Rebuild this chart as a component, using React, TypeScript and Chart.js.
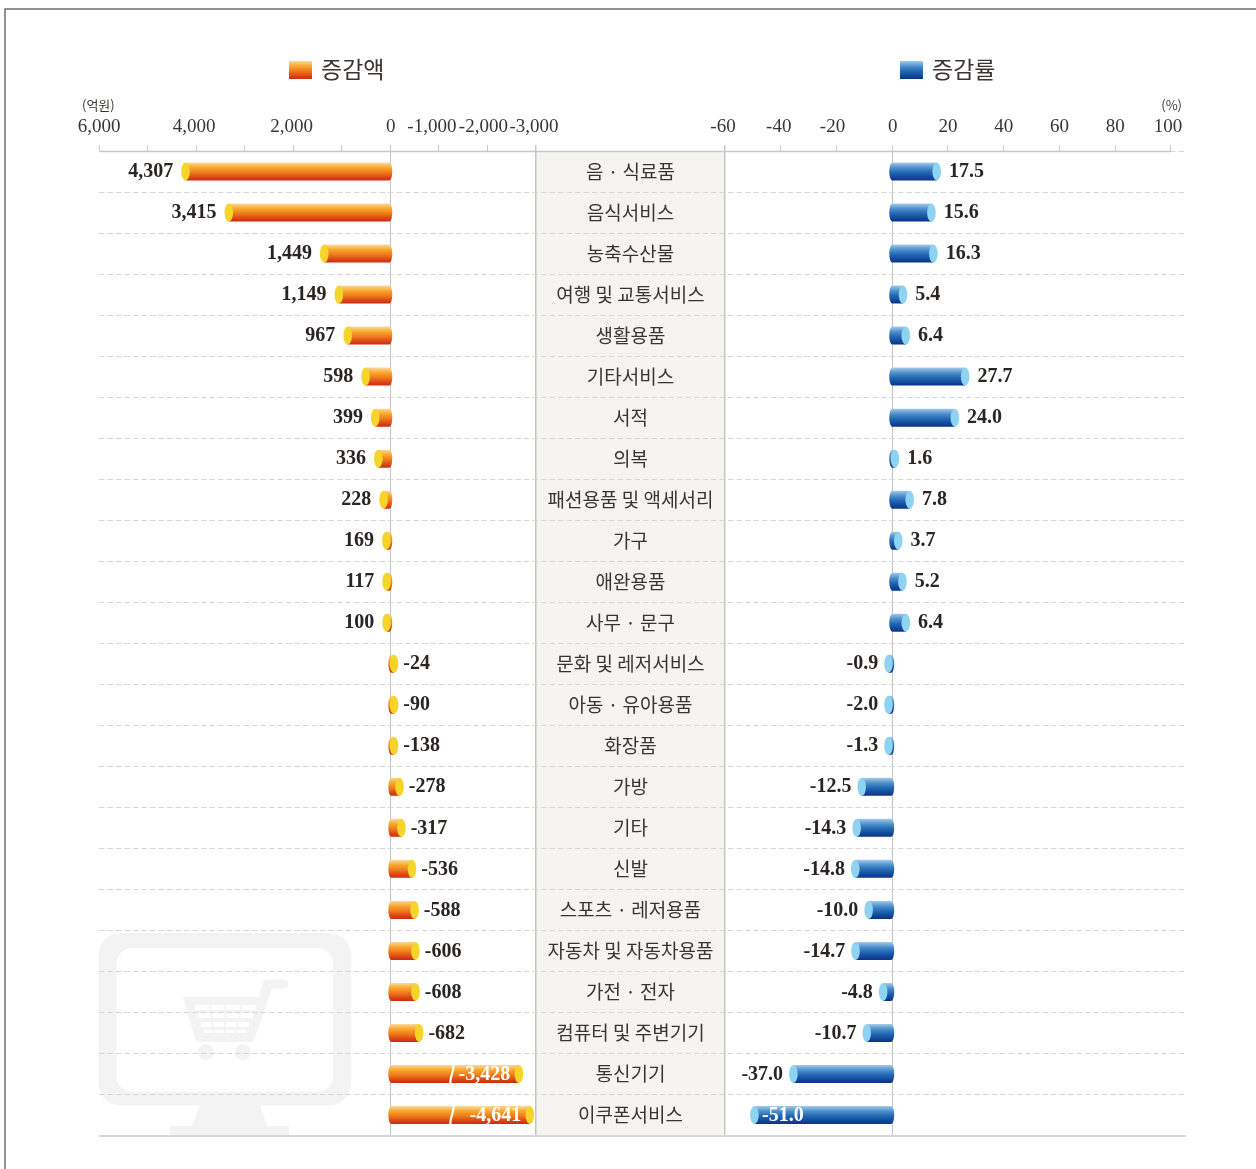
import React, { useEffect, useRef } from "react";
import { Chart, BarElement, registerables } from "chart.js";

Chart.register(...registerables);

const categories = ["음 · 식료품","음식서비스","농축수산물","여행 및 교통서비스","생활용품","기타서비스","서적","의복","패션용품 및 액세서리","가구","애완용품","사무 · 문구","문화 및 레저서비스","아동 · 유아용품","화장품","가방","기타","신발","스포츠 · 레저용품","자동차 및 자동차용품","가전 · 전자","컴퓨터 및 주변기기","통신기기","이쿠폰서비스"];
// printed values
const amountValues = [4307,3415,1449,1149,967,598,399,336,228,169,117,100,-24,-90,-138,-278,-317,-536,-588,-606,-608,-682,-3428,-4641];
const rateValues = [17.5,15.6,16.3,5.4,6.4,27.7,24.0,1.6,7.8,3.7,5.2,6.4,-0.9,-2.0,-1.3,-12.5,-14.3,-14.8,-10.0,-14.7,-4.8,-10.7,-37.0,-51.0];
// the axis is broken for the last two rows: drawn length
const amountDrawn = [4307,3415,1449,1149,967,598,399,336,228,169,117,100,-24,-90,-138,-278,-317,-536,-588,-606,-608,-682,-2737,-2963];
const amountTicks = [6000,5000,4000,3000,2000,1000,0,-1000,-2000,-3000];
const amountTickLabels = ["6,000","","4,000","","2,000","","0","-1,000","-2,000","-3,000"];
const rateTicks = [-60,-40,-20,0,20,40,60,80,100];
const legendNames = ["증감액","증감률"];
const unitNames = ["(억원)","(%)"];

const KR = '"Noto Sans CJK KR"';
const NARROW = '"Liberation Sans Narrow"';
const INK = "#3a3533";
const ORANGE = "#ee7d1b";
const BLUE = "#2a6fb8";
const stops: Record<string, [number, string][]> = {
  [ORANGE]: [[0,"#fbd9a6"],[0.12,"#fbc566"],[0.3,"#f7a52b"],[0.55,"#ef7d1b"],[0.8,"#dc4a17"],[1,"#cc2a12"]],
  [BLUE]: [[0,"#a9cdea"],[0.12,"#7fb2dd"],[0.3,"#4d8fcb"],[0.55,"#2469b3"],[0.8,"#124a9c"],[1,"#0c3388"]],
};
const nudge: Record<string, number> = {"-1,000":-7,"-2,000":-4,"-3,000":-2,"2,000":-1.5,"4,000":-2,"-60":-2,"-40":-2,"-20":-4,"100":-3,"0":0.5};

function geom(el: any) {
  const { x, y, base, height } = el.getProps(["x","y","base","height"]);
  const dir = Math.sign(x - base) || 1;
  const back = el.options.borderColor === "#8fd3f2" && dir > 0 ? 3.5 : 2.5;
  const baseEdge = base - dir * back;
  let outer = x;
  if (Math.abs(outer - baseEdge) < 10) outer = baseEdge + dir * 10;
  return { y, dir, baseEdge, outer, h: height };
}
const RX = 4.3;
// cylinder look for every bar
BarElement.prototype.draw = function (ctx: CanvasRenderingContext2D) {
  const { y, dir, baseEdge, outer, h } = geom(this);
  const ry = h / 2;
  const g = ctx.createLinearGradient(0, y - ry, 0, y + ry);
  (stops[(this as any).options.backgroundColor] || []).forEach(([p, c]) => g.addColorStop(p, c));
  const cap = outer - dir * RX;
  ctx.save();
  ctx.fillStyle = g;
  ctx.beginPath();
  ctx.moveTo(cap, y - ry);
  ctx.lineTo(baseEdge + dir * 3, y - ry);
  ctx.ellipse(baseEdge + dir * 3, y, 3, ry, 0, dir > 0 ? -Math.PI / 2 : -Math.PI / 2, Math.PI / 2, dir > 0);
  ctx.lineTo(cap, y + ry);
  ctx.closePath();
  ctx.fill();
  ctx.fillStyle = (this as any).options.borderColor;
  ctx.beginPath();
  ctx.ellipse(cap, y, RX, ry, 0, 0, Math.PI * 2);
  ctx.fill();
  ctx.restore();
};

function roundRect(c: CanvasRenderingContext2D, x: number, y: number, w: number, h: number, r: number) {
  c.beginPath();
  c.roundRect(x, y, w, h, r);
}

function drawWatermark(c: CanvasRenderingContext2D) {
  c.save();
  c.fillStyle = "#f3f3f3";
  roundRect(c, 98.5, 933, 252.5, 172.5, 22);
  c.fill();
  c.fillStyle = "#fff";
  roundRect(c, 116.5, 948, 216.5, 144, 16);
  c.fill();
  c.fillStyle = "#f3f3f3";
  c.beginPath();
  c.moveTo(200, 1105); c.lineTo(260, 1105); c.lineTo(267, 1126); c.lineTo(289, 1126);
  c.lineTo(289, 1135); c.lineTo(170, 1135); c.lineTo(170, 1126); c.lineTo(192, 1126);
  c.closePath();
  c.fill();
  c.beginPath();
  c.moveTo(183, 997); c.lineTo(259, 997); c.lineTo(263.5, 981);
  c.quadraticCurveTo(264, 979.5, 267, 979.5);
  c.lineTo(284, 979.5); c.arc(284, 984, 4.5, -Math.PI / 2, Math.PI / 2); c.lineTo(272, 988.5);
  c.lineTo(254, 1040); c.quadraticCurveTo(253, 1042, 250, 1042);
  c.lineTo(199, 1042); c.quadraticCurveTo(196, 1042, 195, 1039);
  c.closePath();
  c.fill();
  c.beginPath(); c.arc(206, 1052, 8, 0, Math.PI * 2); c.arc(243, 1052, 8, 0, Math.PI * 2); c.fill();
  c.fillStyle = "#fff";
  const rows = [[1005,1010,194,257],[1013,1018,197,254],[1022,1027,200,250],[1030,1033,203,247]];
  rows.forEach(([t,b,l,r]) => {
    const w = (r - l) / 4;
    for (let i = 0; i < 4; i++) c.fillRect(l + i * w + 1, t, w - 2, b - t);
  });
  c.restore();
}

const decor = {
  id: "decor",
  beforeDraw(chart: any) {
    const c: CanvasRenderingContext2D = chart.ctx;
    const { xL, xR, y } = chart.scales;
    const area = chart.chartArea;
    const panelL = xL.getPixelForValue(-3000), panelR = xR.getPixelForValue(-60);
    // positions of real axis labels
    [xL, xR].forEach((s: any) => {
      s.getLabelItems().forEach((it: any) => {
        if (!it.label) return;
        const v = Number(String(it.label).replace(",", ""));
        it.options.translation[0] = s.getPixelForValue(v) + (nudge[it.label] || 0);
        it.options.translation[1] = 127;
        it.options.textBaseline = "middle";
        it.textOffset = 0;
      });
    });
    y.getLabelItems().forEach((it: any) => {
      it.options.translation[0] = (panelL + panelR) / 2;
      it.options.textAlign = "center";
      it.options.textBaseline = "middle";
      it.options.translation[1] += 0.5;
      it.options.translation[1] = Math.round(it.options.translation[1]);
    });
    c.save();
    c.strokeStyle = "#6f6f6f";
    c.lineWidth = 1.5;
    c.beginPath(); c.moveTo(5, 1169); c.lineTo(5, 9); c.lineTo(1256, 9); c.stroke();
    drawWatermark(c);
    c.fillStyle = "#f5f4f0";
    c.fillRect(panelL, area.top, panelR - panelL, area.bottom - area.top);
    // legend
    [[289, ORANGE, "#f37f1c", 321], [900, BLUE, "", 932]].forEach(([sx, col, , tx]: any, i) => {
      const g = c.createLinearGradient(0, 61, 0, 79);
      stops[col].forEach(([p, k]) => g.addColorStop(p, k));
      c.fillStyle = g;
      c.fillRect(sx, 61, 23, 18);
      c.fillStyle = INK;
      c.font = `23px ${KR}`;
      c.textAlign = "left";
      c.textBaseline = "middle";
      c.fillText(legendNames[i], tx, 69);
    });
    c.font = `13px ${KR}`;
    c.textAlign = "left";
    c.fillText(unitNames[0], 82, 105);
    c.textAlign = "right";
    c.fillText(unitNames[1], 1182, 105);
    c.restore();
  },
  afterDatasetsDraw(chart: any) {
    const c: CanvasRenderingContext2D = chart.ctx;
    const { xL, xR } = chart.scales;
    const area = chart.chartArea;
    c.save();
    // axis line and baseline
    c.strokeStyle = "#c9c9c9";
    c.lineWidth = 1.5;
    c.beginPath();
    c.moveTo(xL.getPixelForValue(6000), area.top + 0.5);
    c.lineTo(xR.getPixelForValue(100), area.top + 0.5);
    c.stroke();
    c.strokeStyle = "#d9d9d9";
    c.lineWidth = 2;
    c.beginPath();
    c.moveTo(area.left, area.bottom + 0.5);
    c.lineTo(area.right, area.bottom + 0.5);
    c.stroke();
    c.textBaseline = "middle";
    c.font = `bold 20px ${NARROW}`;
    chart.getDatasetMeta(0).data.forEach((el: any, i: number) => {
      const { y, dir, outer, h } = geom(el);
      const v = amountValues[i];
      const txt = v.toLocaleString("en-US");
      if (amountDrawn[i] !== v) {
        // axis break
        const bx = xL.getPixelForValue(-1270);
        c.strokeStyle = "#fff";
        c.lineWidth = 2.2;
        c.beginPath();
        c.moveTo(bx + 1.5, y - h / 2 - 1);
        c.bezierCurveTo(bx + 2.5, y - 3, bx - 2.5, y + 3, bx - 1.5, y + h / 2 + 1);
        c.stroke();
        c.fillStyle = "#fff";
        c.textAlign = "right";
        c.fillText(txt, outer - 13, y + 0.5);
        return;
      }
      c.fillStyle = "#2a2523";
      c.textAlign = dir < 0 ? "right" : "left";
      c.fillText(txt, outer + dir * (dir < 0 ? 8 : 5), y + 0.5);
    });
    chart.getDatasetMeta(1).data.forEach((el: any, i: number) => {
      const { y, dir, outer } = geom(el);
      const txt = rateValues[i].toFixed(1);
      if (rateValues[i] === -51) {
        c.fillStyle = "#fff";
        c.textAlign = "left";
        c.fillText(txt, outer + 12, y + 0.5);
        return;
      }
      c.fillStyle = "#2a2523";
      c.textAlign = dir > 0 ? "left" : "right";
      c.fillText(txt, outer + dir * (dir > 0 ? 8 : 6), y + 0.5);
    });
    c.restore();
  },
};

const xCommon = (ticksList: number[], format: (v: number) => string, hairlines: number[]) => ({
  type: "linear",
  position: "top",
  afterFit: (s: any) => { s.height = 0; },
  afterBuildTicks: (s: any) => { s.ticks = ticksList.map((value) => ({ value })); },
  border: { display: false },
  grid: {
    drawOnChartArea: true,
    drawTicks: true,
    tickLength: 6,
    tickColor: "#c9c9c9",
    lineWidth: (ctx: any) => (hairlines[1] === ctx.tick?.value ? 1.5 : 1),
    color: (ctx: any) => (hairlines.includes(ctx.tick?.value) ? "#c4c4c0" : "rgba(0,0,0,0)"),
  },
  ticks: {
    mirror: true,
    autoSkip: false,
    minRotation: 0,
    maxRotation: 0,
    color: INK,
    font: { family: NARROW, size: 19 },
    callback: (v: any) => format(Number(v)),
  },
});

export default function App() {
  const ref = useRef<HTMLCanvasElement>(null);
  useEffect(() => {
    const chart = new Chart(ref.current as HTMLCanvasElement, {
      type: "bar",
      data: {
        labels: categories,
        datasets: [
          { label: legendNames[0], data: amountDrawn, xAxisID: "xL", yAxisID: "y", backgroundColor: ORANGE, borderColor: "#f6d42a", barThickness: 18, grouped: false },
          { label: legendNames[1], data: rateValues, xAxisID: "xR", yAxisID: "y", backgroundColor: BLUE, borderColor: "#8fd3f2", barThickness: 18, grouped: false },
        ],
      } as any,
      options: {
        indexAxis: "y",
        responsive: false,
        animation: false,
        layout: { padding: { left: 99, top: 151, right: 70, bottom: 33.5 } },
        plugins: { legend: { display: false }, tooltip: { enabled: false } },
        scales: {
          xL: {
            ...xCommon(amountTicks, (v) => amountTickLabels[amountTicks.indexOf(v)] ?? "", [0, -3000]),
            reverse: true,
            min: -16389,
            max: 6000,
          },
          xR: {
            ...xCommon(rateTicks, (v) => String(v), [0, -60]),
            min: -284.6,
            max: 105.4,
          },
          y: {
            type: "category",
            afterFit: (s: any) => { s.width = 0; },
            border: { display: false, dash: [5.5, 3] },
            grid: { color: "#d6d6d6", drawTicks: false, offset: true },
            ticks: {
              mirror: true,
              autoSkip: false,
              color: INK,
              font: { family: KR, size: 19 },
            },
          },
        },
      } as any,
      plugins: [decor],
    });
    return () => chart.destroy();
  }, []);
  return <canvas ref={ref} width={1256} height={1169} style={{ position: "absolute", left: 0, top: 0, display: "block" }} />;
}
